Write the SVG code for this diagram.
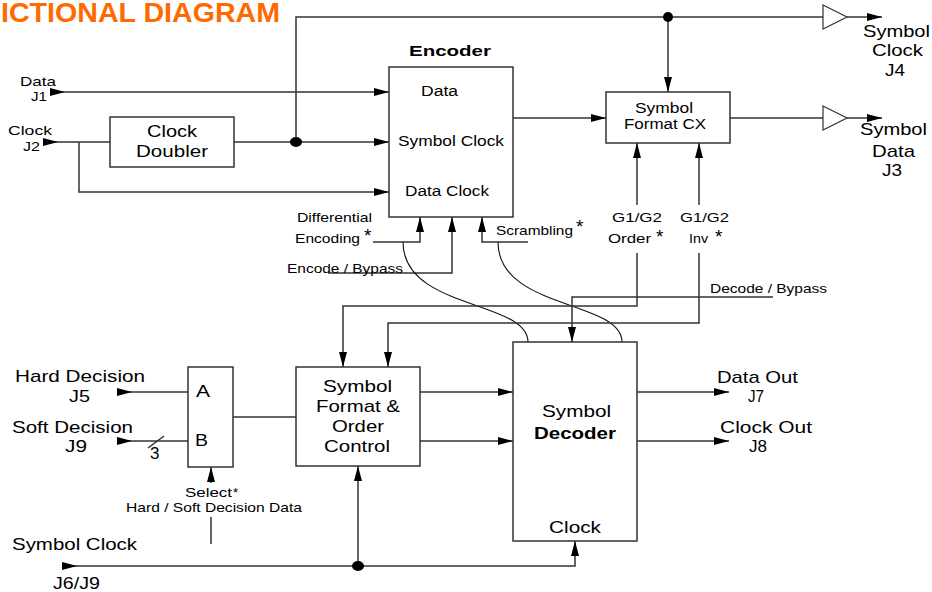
<svg xmlns="http://www.w3.org/2000/svg" width="932" height="592" viewBox="0 0 932 592">
<style>
  text { font-family: "Liberation Sans", Arial, sans-serif; fill: #000; }
  .title { font-size: 27px; font-weight: bold; fill: #FF6A00; }
  .lg { font-size: 17px; }
  .md { font-size: 14px; }
  .sm { font-size: 13px; }
  .st { font-size: 19px; }
  .b { font-weight: bold; }
  .box { fill: #fff; stroke: #333; stroke-width: 1.5; }
  .buf { fill: #fff; stroke: #333; stroke-width: 1.2; }
  .ln { fill: none; stroke: #333; stroke-width: 1.5; }
  .cv { fill: none; stroke: #111; stroke-width: 1.1; }
  .dot { fill: #000; }
  .ae { marker-end: url(#ae); }
  .as { marker-start: url(#as); }
</style>
<defs>
  <marker id="ae" markerUnits="userSpaceOnUse" viewBox="0 0 15 8" markerWidth="15" markerHeight="8" refX="15" refY="4" orient="auto">
    <path d="M0,0 L15,4 L0,8 Z" fill="#000"/>
  </marker>
  <marker id="as" markerUnits="userSpaceOnUse" viewBox="0 0 15 8" markerWidth="15" markerHeight="8" refX="0" refY="4" orient="auto">
    <path d="M0,0 L15,4 L0,8 Z" fill="#000"/>
  </marker>
</defs>
<rect width="932" height="592" fill="#fff"/>

<text class="title" x="1" y="22" textLength="279" lengthAdjust="spacingAndGlyphs">ICTIONAL DIAGRAM</text>

<g id="connectors">
  <path class="ln" d="M296,142 V17 H823"/>
  <path class="ln ae" d="M668,17 V92"/>
  <path class="ln ae" d="M847,17 H882"/>
  <path class="ln as ae" d="M50,92 H389"/>
  <path class="ln as" d="M43,142 H110"/>
  <path class="ln ae" d="M234,142 H389"/>
  <path class="ln ae" d="M79,142 V192 H389"/>
  <path class="ln ae" d="M513,118 H606"/>
  <path class="ln" d="M730,118 H823"/>
  <path class="ln ae" d="M847,118 H882"/>
  <path class="ln ae" d="M637,205 V143"/>
  <path class="ln ae" d="M699,205 V143"/>
  <path class="ln ae" d="M373,242 H420 V217"/>
  <path class="ln ae" d="M328,273 H452 V217"/>
  <path class="ln ae" d="M528,242 H482 V217"/>
  <path class="cv" d="M403,242 C403,310 528,300 528,342"/>
  <path class="cv" d="M498,242 C498,310 622,300 622,342"/>
  <path class="ln ae" d="M637,253 V306 H343 V367"/>
  <path class="ln ae" d="M699,253 V323 H388 V367"/>
  <path class="ln ae" d="M773,297 H572 V342"/>
  <path class="ln as" d="M117,392 H188"/>
  <path class="ln as" d="M117,441 H188"/>
  <path class="ln" d="M148,448 L164,436"/>
  <path class="ln" d="M233,417 H296"/>
  <path class="ln ae" d="M211,483 V467"/>
  <path class="ln" d="M211,517 V544"/>
  <path class="ln ae" d="M420,392 H513"/>
  <path class="ln ae" d="M420,441 H513"/>
  <path class="ln as ae" d="M62,566 H575 V541"/>
  <path class="ln ae" d="M358,566 V466"/>
  <path class="ln ae" d="M637,392 H729"/>
  <path class="ln ae" d="M637,441 H729"/>
  <ellipse class="dot" cx="296" cy="142" rx="6" ry="5"/>
  <ellipse class="dot" cx="668" cy="17" rx="5" ry="5"/>
  <ellipse class="dot" cx="358" cy="566" rx="6" ry="5"/>
</g>

<g id="in-j1">
  <text class="sm" x="20" y="86" textLength="36" lengthAdjust="spacingAndGlyphs">Data</text>
  <text class="sm" x="31" y="101" textLength="16" lengthAdjust="spacingAndGlyphs">J1</text>
</g>
<g id="in-j2">
  <text class="sm" x="8" y="135" textLength="44" lengthAdjust="spacingAndGlyphs">Clock</text>
  <text class="sm" x="23" y="151" textLength="17" lengthAdjust="spacingAndGlyphs">J2</text>
</g>
<g id="clock-doubler">
  <rect class="box" x="110" y="117" width="124" height="50"/>
  <text class="lg" x="147" y="137" textLength="50" lengthAdjust="spacingAndGlyphs">Clock</text>
  <text class="lg" x="136" y="157" textLength="72" lengthAdjust="spacingAndGlyphs">Doubler</text>
</g>
<g id="encoder">
  <text class="md b" x="409" y="56" textLength="82" lengthAdjust="spacingAndGlyphs">Encoder</text>
  <rect class="box" x="389" y="67" width="124" height="150"/>
  <text class="md" x="421" y="96" textLength="37" lengthAdjust="spacingAndGlyphs">Data</text>
  <text class="md" x="398" y="146" textLength="106" lengthAdjust="spacingAndGlyphs">Symbol Clock</text>
  <text class="md" x="405" y="196" textLength="84" lengthAdjust="spacingAndGlyphs">Data Clock</text>
</g>
<g id="symbol-format-cx">
  <rect class="box" x="606" y="92" width="124" height="51"/>
  <text class="md" x="635" y="113" textLength="58" lengthAdjust="spacingAndGlyphs">Symbol</text>
  <text class="md" x="624" y="129" textLength="82" lengthAdjust="spacingAndGlyphs">Format CX</text>
</g>
<g id="out-j4">
  <polygon class="buf" points="823,5 847,17 823,29"/>
  <text class="lg" x="863" y="37" textLength="67" lengthAdjust="spacingAndGlyphs">Symbol</text>
  <text class="lg" x="872" y="56" textLength="51" lengthAdjust="spacingAndGlyphs">Clock</text>
  <text class="lg" x="885" y="76" textLength="20" lengthAdjust="spacingAndGlyphs">J4</text>
</g>
<g id="out-j3">
  <polygon class="buf" points="823,106 847,118 823,130"/>
  <text class="lg" x="860" y="135" textLength="67" lengthAdjust="spacingAndGlyphs">Symbol</text>
  <text class="lg" x="872" y="157" textLength="43" lengthAdjust="spacingAndGlyphs">Data</text>
  <text class="lg" x="882" y="176" textLength="20" lengthAdjust="spacingAndGlyphs">J3</text>
</g>
<g id="ctl-differential">
  <text class="sm" x="297" y="222" textLength="75" lengthAdjust="spacingAndGlyphs">Differential</text>
  <text class="sm" x="295" y="243" textLength="65" lengthAdjust="spacingAndGlyphs">Encoding</text>
  <text class="st" x="364" y="242">*</text>
</g>
<g id="ctl-encode-bypass">
  <text class="sm" x="287" y="273" textLength="116" lengthAdjust="spacingAndGlyphs">Encode / Bypass</text>
</g>
<g id="ctl-scrambling">
  <text class="sm" x="496" y="235" textLength="77" lengthAdjust="spacingAndGlyphs">Scrambling</text>
  <text class="st" x="576" y="233">*</text>
</g>
<g id="ctl-order">
  <text class="sm" x="612" y="222" textLength="50" lengthAdjust="spacingAndGlyphs">G1/G2</text>
  <text class="sm" x="608" y="243" textLength="43" lengthAdjust="spacingAndGlyphs">Order</text>
  <text class="st" x="656" y="243">*</text>
</g>
<g id="ctl-inv">
  <text class="sm" x="680" y="222" textLength="49" lengthAdjust="spacingAndGlyphs">G1/G2</text>
  <text class="sm" x="689" y="243" textLength="19" lengthAdjust="spacingAndGlyphs">Inv</text>
  <text class="st" x="715" y="243">*</text>
</g>
<g id="ctl-decode-bypass">
  <text class="sm" x="710" y="293" textLength="117" lengthAdjust="spacingAndGlyphs">Decode / Bypass</text>
</g>
<g id="in-j5">
  <text class="lg" x="15" y="382" textLength="130" lengthAdjust="spacingAndGlyphs">Hard Decision</text>
  <text class="lg" x="69" y="402" textLength="21" lengthAdjust="spacingAndGlyphs">J5</text>
</g>
<g id="in-j9">
  <text class="lg" x="12" y="433" textLength="121" lengthAdjust="spacingAndGlyphs">Soft Decision</text>
  <text class="lg" x="65" y="452" textLength="22" lengthAdjust="spacingAndGlyphs">J9</text>
  <text class="lg" x="150" y="459">3</text>
</g>
<g id="mux">
  <rect class="box" x="188" y="367" width="45" height="100"/>
  <text class="lg" x="196" y="397" textLength="14" lengthAdjust="spacingAndGlyphs">A</text>
  <text class="lg" x="195" y="446" textLength="13" lengthAdjust="spacingAndGlyphs">B</text>
</g>
<g id="ctl-select">
  <text class="sm" x="185" y="497" textLength="47" lengthAdjust="spacingAndGlyphs">Select</text>
  <text class="sm" x="233" y="497">*</text>
  <text class="sm" x="126" y="512" textLength="176" lengthAdjust="spacingAndGlyphs">Hard / Soft Decision Data</text>
</g>
<g id="symbol-format-order">
  <rect class="box" x="296" y="367" width="124" height="99"/>
  <text class="lg" x="323" y="392" textLength="69" lengthAdjust="spacingAndGlyphs">Symbol</text>
  <text class="lg" x="316" y="412" textLength="84" lengthAdjust="spacingAndGlyphs">Format &amp;</text>
  <text class="lg" x="332" y="432" textLength="52" lengthAdjust="spacingAndGlyphs">Order</text>
  <text class="lg" x="324" y="452" textLength="66" lengthAdjust="spacingAndGlyphs">Control</text>
</g>
<g id="symbol-decoder">
  <rect class="box" x="513" y="342" width="124" height="199"/>
  <text class="lg" x="542" y="417" textLength="69" lengthAdjust="spacingAndGlyphs">Symbol</text>
  <text class="lg b" x="534" y="439" textLength="82" lengthAdjust="spacingAndGlyphs">Decoder</text>
  <text class="lg" x="549" y="533" textLength="52" lengthAdjust="spacingAndGlyphs">Clock</text>
</g>
<g id="in-j6">
  <text class="lg" x="12" y="550" textLength="125" lengthAdjust="spacingAndGlyphs">Symbol Clock</text>
  <text class="lg" x="53" y="589" textLength="47" lengthAdjust="spacingAndGlyphs">J6/J9</text>
</g>
<g id="out-j7">
  <text class="lg" x="717" y="383" textLength="81" lengthAdjust="spacingAndGlyphs">Data Out</text>
  <text class="lg" x="748" y="402" textLength="16" lengthAdjust="spacingAndGlyphs">J7</text>
</g>
<g id="out-j8">
  <text class="lg" x="720" y="433" textLength="92" lengthAdjust="spacingAndGlyphs">Clock Out</text>
  <text class="lg" x="749" y="452" textLength="18" lengthAdjust="spacingAndGlyphs">J8</text>
</g>
</svg>
